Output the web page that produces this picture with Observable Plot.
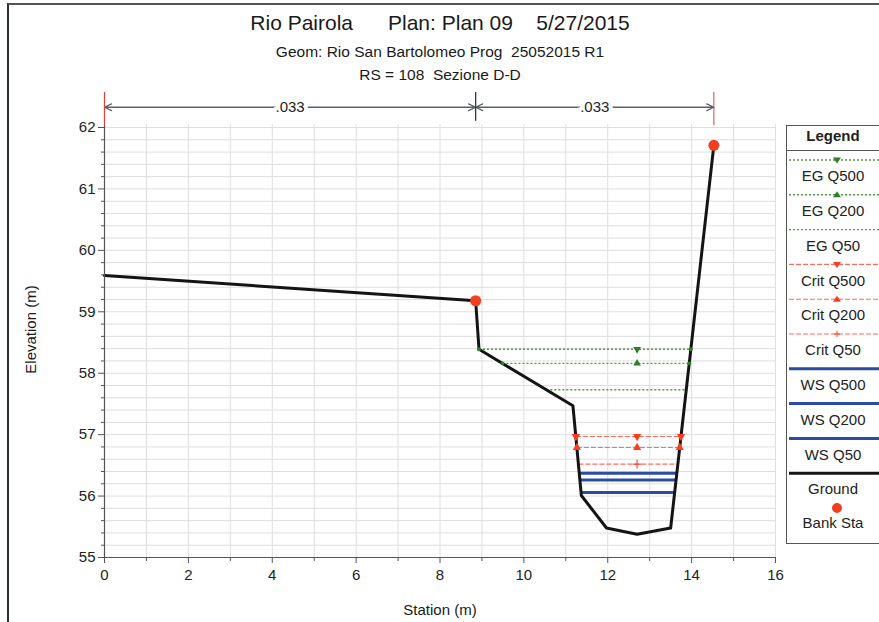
<!DOCTYPE html>
<html><head><meta charset="utf-8">
<script src="https://cdn.jsdelivr.net/npm/d3@7"></script>
<script src="https://cdn.jsdelivr.net/npm/@observablehq/plot@0.6"></script>
<style>
body{margin:0;background:#fff;font-family:"Liberation Sans",Arial,sans-serif;}
#wrap{position:relative;width:879px;height:622px;overflow:hidden;background:#fff;}
#wrap svg.plotsvg{position:absolute;left:0;top:0;}
.t{position:absolute;left:0;width:880px;text-align:center;white-space:pre;color:#1a1a1a;font-family:"Liberation Sans Narrow","Arial Narrow","Liberation Sans",sans-serif;line-height:1;}
#frame{position:absolute;left:7px;top:3px;width:900px;height:700px;border-left:2px solid #2a2f2f;border-top:2px solid #555;}
#legend{position:absolute;left:786px;top:125px;}
</style></head><body><div id="wrap">
<div id="frame"></div>
<div class="t" style="top:12px;font-size:21px;">Rio Pairola      Plan: Plan 09    5/27/2015</div>
<div class="t" style="top:44px;font-size:15.5px;">Geom: Rio San Bartolomeo Prog  25052015 R1</div>
<div class="t" style="top:67px;font-size:15.5px;">RS = 108  Sezione D-D</div>
<div class="t" style="top:602px;left:0;width:880px;font-size:15px;">Station (m)</div>
<div class="t" style="top:322px;left:-20px;width:100px;font-size:15px;font-family:'Liberation Sans',Arial,sans-serif;transform:rotate(-90deg);">Elevation (m)</div>
</div>
<script>
// ---- data ----
const stations   = [0, 8.85, 8.93, 11.17, 11.37, 11.97, 12.70, 13.50, 14.53];
const elevations = [59.59, 59.18, 58.39, 57.47, 56.01, 55.48, 55.38, 55.48, 61.71];
const bankStations   = [8.85, 14.53];
const bankElevations = [59.18, 61.71];
const profileNames      = ["EG Q500","EG Q200","EG Q50","Crit Q500","Crit Q200","Crit Q50","WS Q500","WS Q200","WS Q50"];
const profileElevations = [58.39, 58.16, 57.73, 56.97, 56.79, 56.52, 56.37, 56.26, 56.06];
const markerStation = 12.70;
const nValueLabels = [".033", ".033"];
const nValueBreaks = [0, 8.85, 14.53];
const xTicks = [0, 2, 4, 6, 8, 10, 12, 14, 16];
const yTicks = [55, 56, 57, 58, 59, 60, 61, 62];
const legendNames = ["EG Q500","EG Q200","EG Q50","Crit Q500","Crit Q200","Crit Q50","WS Q500","WS Q200","WS Q50","Ground"];

// ---- styles ----
const C = {eg:"#4f9a3c", egM:"#2f7d2a", crit:"#ff6b5c", critM:"#ff3b22", ws:"#2b4ca2", ground:"#141414", bank:"#f0401f", grid:"#dedede", axis:"#555"};

// ---- derived ----
const ground = stations.map((s,i)=>({s, e: elevations[i]}));
const banks = bankStations.map((s,i)=>({s, e: bankElevations[i]}));
function crossings(level){
  const xs=[];
  for(let i=0;i<stations.length-1;i++){
    const y0=elevations[i], y1=elevations[i+1];
    if(y0!==y1 && (y0-level)*(y1-level)<=0){
      const t=(level-y0)/(y1-y0);
      xs.push(stations[i]+t*(stations[i+1]-stations[i]));
    }
  }
  return [Math.min(...xs), Math.max(...xs)];
}
const profiles = profileNames.map((name,i)=>{
  const [xl,xr]=crossings(profileElevations[i]);
  return {name, kind:name.split(" ")[0], q:name.split(" ")[1], elev:profileElevations[i], xl, xr};
});
const markers = [];
for(const p of profiles){
  if(p.kind==="WS") continue;
  let sym = p.q==="Q500" ? "down" : p.q==="Q200" ? "up" : "plus";
  if(p.kind==="Crit"){
    markers.push({x:markerStation,y:p.elev,kind:p.kind,sym,size:4});
    if(sym!=="plus"){ markers.push({x:p.xl,y:p.elev,kind:p.kind,sym,size:4}); markers.push({x:p.xr,y:p.elev,kind:p.kind,sym,size:4}); }
  } else {
    if(sym!=="plus"){
      markers.push({x:markerStation,y:p.elev,kind:p.kind,sym,size:3.5});
      markers.push({x:p.xl,y:p.elev,kind:p.kind,sym:"dot",size:1.6});
      markers.push({x:p.xr,y:p.elev,kind:p.kind,sym:"dot",size:1.6});
    }
  }
}
const nSegs = nValueLabels.map((t,i)=>({t, a:nValueBreaks[i], b:nValueBreaks[i+1], m:(nValueBreaks[i]+nValueBreaks[i+1])/2}));
const arrows = nSegs.flatMap(d=>[{x1:d.m,x2:d.a},{x1:d.m,x2:d.b}]);
const yMinor = d3.range(0,36).map(i=>+(55+i*0.2).toFixed(1));
const yTop = 62.57, nY = 62.33;

const plot = Plot.plot({
  width: 879, height: 622,
  marginLeft: 104, marginRight: 104, marginTop: 92, marginBottom: 65,
  x: {domain: [0, 16]},
  y: {domain: [55, yTop]},
  style: {fontFamily: "'Liberation Sans', Arial, sans-serif", color: "#222", background: "transparent"},
  marks: [
    Plot.ruleY(yMinor, {x1: 0, x2: 16, stroke: C.grid, strokeWidth: 1}),
    Plot.ruleX(d3.range(1, 17), {y1: 55, y2: 62.05, stroke: C.grid, strokeWidth: 1}),
    Plot.link(profiles.filter(p=>p.kind==="EG"), {x1:"xl", x2:"xr", y1:"elev", y2:"elev", stroke: C.eg, strokeWidth: 1.4, strokeDasharray: "2,2"}),
    Plot.link(profiles.filter(p=>p.kind==="Crit"), {x1:"xl", x2:"xr", y1:"elev", y2:"elev", stroke: C.crit, strokeWidth: 1.1, strokeDasharray: "5,2"}),
    Plot.link(profiles.filter(p=>p.kind==="WS"), {x1:"xl", x2:"xr", y1:"elev", y2:"elev", stroke: C.ws, strokeWidth: 3}),
    Plot.line(ground, {x: "s", y: "e", stroke: C.ground, strokeWidth: 3, strokeLinejoin: "round"}),
    Plot.dot(markers.filter(m=>m.sym==="up"), {x:"x", y:"y", r:"size", symbol:"triangle", fill: d=>d.kind==="EG"?C.egM:C.critM, stroke:"none"}),
    Plot.dot(markers.filter(m=>m.sym==="down"), {x:"x", y:"y", r:"size", symbol:"triangle", rotate:180, fill: d=>d.kind==="EG"?C.egM:C.critM, stroke:"none"}),
    Plot.dot(markers.filter(m=>m.sym==="dot"), {x:"x", y:"y", r:"size", fill: C.egM, stroke:"none"}),
    Plot.dot(profiles.filter(p=>p.kind==="Crit" && p.q==="Q50"), {x: ()=>markerStation, y:"elev", symbol:"plus", r:3, stroke: C.critM, strokeWidth:1}),
    Plot.dot(banks, {x:"s", y:"e", r: 5.5, fill: C.bank, stroke: "none"}),
    // axis lines
    Plot.ruleY([55], {x1: 0, x2: 16, stroke: C.axis, strokeWidth: 1.2}),
    Plot.ruleX([0], {y1: 55, y2: yTop, stroke: C.axis, strokeWidth: 1.2}),
    // n-value bar
    Plot.arrow(arrows, {x1:"x1", x2:"x2", y1: nY, y2: nY, stroke: "#5a6068", strokeWidth: 1.3, headLength: 9, headAngle: 50}),
    Plot.ruleX([nValueBreaks[0], nValueBreaks[nValueBreaks.length-1]], {y1: 62.03, y2: yTop, stroke: "#d9443a", strokeWidth: 1}),
    Plot.ruleX(nValueBreaks.slice(1,-1), {y1: 62.1, y2: yTop, stroke: "#2e3a3a", strokeWidth: 1.3}),
    Plot.text(nSegs, {x:"m", y: nY, text:"t", fontSize: 15, fill:"#222", stroke:"white", strokeWidth: 8, fontFamily:"'Liberation Sans Narrow','Arial Narrow','Liberation Sans',sans-serif"}),
    // axes
    Plot.axisX({ticks: xTicks, tickSize: 6, tickPadding: 6, fontSize: 15, label: null, stroke: C.axis}),
    Plot.axisX({ticks: d3.range(1, 16, 2), tickSize: 4, tickFormat: () => "", label: null, stroke: C.axis}),
    Plot.axisY({ticks: yTicks, tickSize: 6, tickPadding: 3, fontSize: 15, label: null, stroke: C.axis}),
    Plot.axisY({ticks: yMinor.filter(v=>!Number.isInteger(v)), tickSize: 3, tickFormat: () => "", label: null, stroke: C.axis})
  ]
});
plot.classList.add("plotsvg");
document.getElementById("wrap").prepend(plot);

// ---- legend ----
const LW = 96, LH = 419;
const lsvg = d3.create("svg").attr("width", LW).attr("height", LH).style("display","block");
lsvg.append("rect").attr("x",0.5).attr("y",0.5).attr("width",LW+5).attr("height",LH-1).attr("fill","#fff").attr("stroke","#555").attr("stroke-width",1);
lsvg.append("text").attr("x",47).attr("y",11).attr("dy","0.35em").attr("text-anchor","middle").attr("font-weight","bold").attr("font-size",15).attr("fill","#222").text("Legend");
lsvg.append("line").attr("x1",0).attr("x2",LW).attr("y1",25.5).attr("y2",25.5).attr("stroke","#555");
const mx = 51;
legendNames.forEach((name,i)=>{
  const ly = 35 + 34.8*i, ty = 51 + 34.8*i;
  const kind = name.split(" ")[0], q = name.split(" ")[1];
  const line = lsvg.append("line").attr("x1",3).attr("x2",LW).attr("y1",ly).attr("y2",ly);
  if(kind==="EG") line.attr("stroke",C.eg).attr("stroke-width",1.4).attr("stroke-dasharray","2,2");
  else if(kind==="Crit") line.attr("stroke",C.crit).attr("stroke-width",1.1).attr("stroke-dasharray","5,2");
  else if(kind==="WS") line.attr("stroke",C.ws).attr("stroke-width",3);
  else line.attr("stroke",C.ground).attr("stroke-width",3);
  const col = kind==="EG"?C.egM:C.critM;
  if(q==="Q500" && kind!=="WS") lsvg.append("path").attr("d",`M${mx-4},${ly-2.5}L${mx+4},${ly-2.5}L${mx},${ly+3.5}Z`).attr("fill",col);
  if(q==="Q200" && kind!=="WS") lsvg.append("path").attr("d",`M${mx-4},${ly+2.5}L${mx+4},${ly+2.5}L${mx},${ly-3.5}Z`).attr("fill",col);
  if(q==="Q50" && kind==="Crit") lsvg.append("path").attr("d",`M${mx-3},${ly}H${mx+3}M${mx},${ly-3}V${ly+3}`).attr("stroke",col);
  lsvg.append("text").attr("x",47).attr("y",ty).attr("dy","0.35em").attr("text-anchor","middle").attr("font-size",15).attr("fill","#222").text(name);
});
lsvg.append("circle").attr("cx",mx).attr("cy",383).attr("r",5).attr("fill",C.bank);
lsvg.append("text").attr("x",47).attr("y",398).attr("dy","0.35em").attr("text-anchor","middle").attr("font-size",15).attr("fill","#222").text("Bank Sta");
const ldiv = document.createElement("div");
ldiv.id = "legend";
ldiv.style.fontFamily = "'Liberation Sans', Arial, sans-serif";
ldiv.appendChild(lsvg.node());
document.getElementById("wrap").appendChild(ldiv);
</script>
</body></html>
